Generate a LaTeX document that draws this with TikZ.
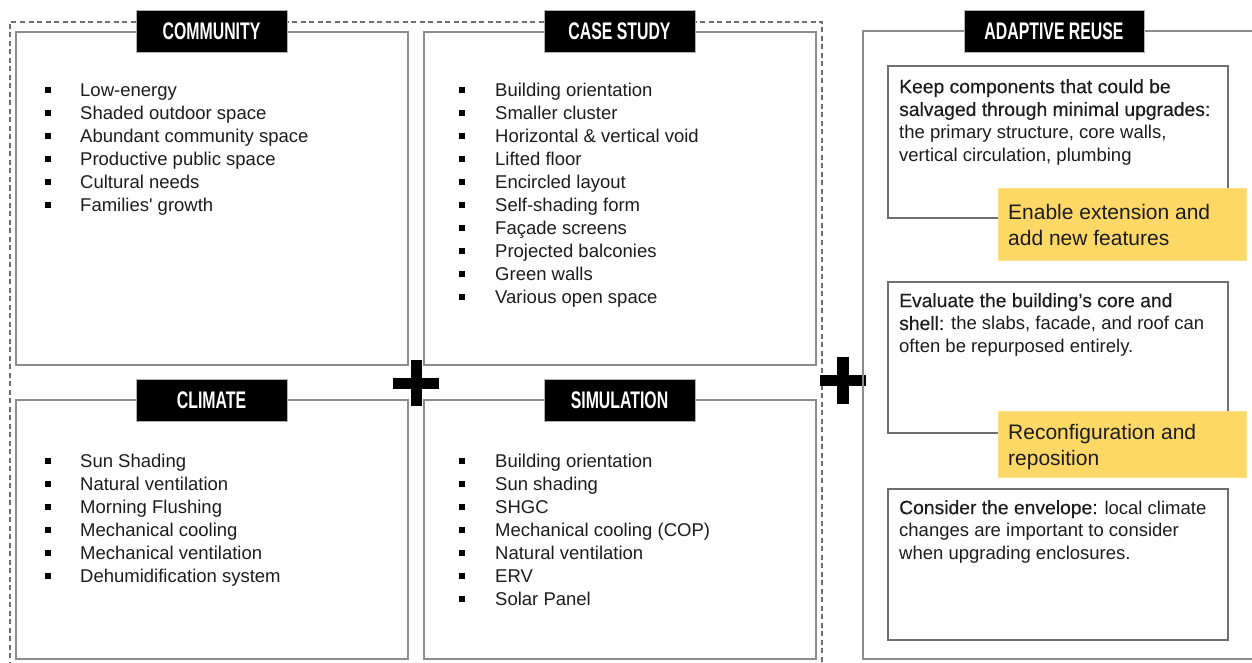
\documentclass[tikz,border=0pt]{standalone}
\usepackage{fontspec}
\setmainfont{Liberation Sans}
\newfontfamily\headfont[FakeStretch=0.66]{Liberation Sans}
\newfontfamily\medfont[FakeBold=0.3]{Liberation Sans}
\definecolor{boxgray}{RGB}{140,140,140}
\definecolor{framegray}{RGB}{110,110,110}
\definecolor{notefill}{RGB}{254,216,102}
\definecolor{ink}{RGB}{28,28,28}
\tikzset{
  panel/.style={draw=boxgray, line width=1.4pt},
  inbox/.style={draw=framegray, line width=1.2pt},
  heading/.style={fill=black, draw=gray!60, line width=0.8pt, minimum width=151pt,
    minimum height=42pt, inner sep=0pt, text=white,
    font=\headfont\bfseries\fontsize{24}{24}\selectfont},
  dot/.style={fill=black, minimum size=5.5pt, inner sep=0pt},
  itm/.style={anchor=base west, inner sep=0pt, text=ink, font=\fontsize{18.5}{22}\selectfont},
  para/.style={anchor=north west, inner sep=0pt, align=left, text=ink,
    font=\fontsize{18.5}{22.8}\selectfont},
  note/.style={fill=notefill, draw=notefill!80!white, line width=0.6pt},
  notetext/.style={anchor=north west, inner sep=0pt, align=left, text=ink,
    font=\fontsize{21}{26}\selectfont},
  plus/.style={fill=black},
}
\newcommand{\med}[1]{{\medfont\fontsize{19.3}{22.8}\selectfont #1}}
\begin{document}
\begin{tikzpicture}[x=1pt,y=-1pt]
  \useasboundingbox (0,0) rectangle (1252,663);
  % moldura tracejada
  \draw[framegray, line width=1.3pt, dash pattern=on 5pt off 3.5pt]
    (10,675) -- (10,22) -- (822,22) -- (822,675);
  % community
  \draw[panel] (16,32) rectangle (408,365);
  \node[heading] (hcom) at (211.5,31) {COMMUNITY};
  \foreach \t [count=\i] in {Low-energy, Shaded outdoor space, Abundant community space,
      Productive public space, Cultural needs, Families\textquotesingle{} growth} {
    \node[dot] (comb\i) at (48,90+23*\i-23) {};
    \node[itm] (comt\i) at (80,96.5+23*\i-23) {\t};
  }
  % case study
  \draw[panel] (424,32) rectangle (816,365);
  \node[heading] (hcase) at (619.5,31) {CASE STUDY};
  \foreach \t [count=\i] in {Building orientation, Smaller cluster,
      Horizontal \& vertical void, Lifted floor, Encircled layout, Self-shading form,
      Façade screens, Projected balconies, Green walls, Various open space} {
    \node[dot] (casb\i) at (462,90+23*\i-23) {};
    \node[itm] (cast\i) at (495,96.5+23*\i-23) {\t};
  }
  % climate
  \draw[panel] (16,400) rectangle (408,659);
  \node[heading] (hcli) at (211.5,400.5) {CLIMATE};
  \foreach \t [count=\i] in {Sun Shading, Natural ventilation, Morning Flushing,
      Mechanical cooling, Mechanical ventilation, Dehumidification system} {
    \node[dot] (clib\i) at (48,461+23*\i-23) {};
    \node[itm] (clit\i) at (80,467.5+23*\i-23) {\t};
  }
  % simulation
  \draw[panel] (424,400) rectangle (816,659);
  \node[heading] (hsim) at (619.5,400.5) {SIMULATION};
  \foreach \t [count=\i] in {Building orientation, Sun shading, SHGC,
      Mechanical cooling (COP), Natural ventilation, ERV, Solar Panel} {
    \node[dot] (simb\i) at (462,461+23*\i-23) {};
    \node[itm] (simt\i) at (495,467.5+23*\i-23) {\t};
  }
  % sinais de mais
  \fill[plus] (393,378) rectangle (439,389);
  \fill[plus] (411,360) rectangle (422,406);
  \fill[plus] (820,375) rectangle (866,386);
  \fill[plus] (837,357) rectangle (849,404);
  % adaptive reuse
  \draw[panel] (863,31) rectangle (1262,659);
  \node[heading, minimum width=180pt] (hada) at (1054,31) {ADAPTIVE REUSE};
  \draw[inbox] (888,66) rectangle (1228,218);
  \node[para] (keep) at (899,79) {\med{Keep components that could be}\\
    \med{salvaged through minimal upgrades:}\\
    the primary structure, core walls,\\
    vertical circulation, plumbing};
  \fill[note] (998,188) rectangle (1246,260);
  \node[notetext] (enable) at (1008,204) {Enable extension and\\add new features};
  \draw[inbox] (888,282) rectangle (1228,433);
  \node[para] (eval) at (899,293) {\med{Evaluate the building’s core and}\\
    \med{shell:} the slabs, facade, and roof can\\
    often be repurposed entirely.};
  \fill[note] (998,411) rectangle (1246,477);
  \node[notetext] (reconf) at (1008,424) {Reconfiguration and\\reposition};
  \draw[inbox] (888,489) rectangle (1228,640);
  \node[para] (env) at (899,500) {\med{Consider the envelope:} local climate\\
    changes are important to consider\\
    when upgrading enclosures.};
\end{tikzpicture}
\end{document}
